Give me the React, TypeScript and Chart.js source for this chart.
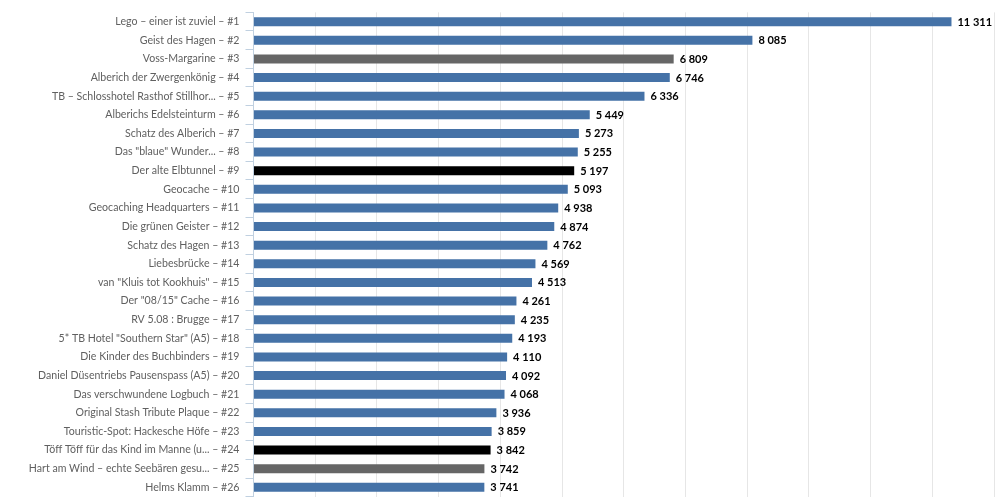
import React, { useEffect, useRef } from "react";
import { Chart, registerables } from "chart.js";

Chart.register(...registerables);

const categories: string[] = [
  "Lego – einer ist zuviel – #1",
  "Geist des Hagen – #2",
  "Voss-Margarine – #3",
  "Alberich der Zwergenkönig – #4",
  "TB – Schlosshotel Rasthof Stillhor... – #5",
  "Alberichs Edelsteinturm – #6",
  "Schatz des Alberich – #7",
  "Das \"blaue\" Wunder... – #8",
  "Der alte Elbtunnel – #9",
  "Geocache – #10",
  "Geocaching Headquarters – #11",
  "Die grünen Geister – #12",
  "Schatz des Hagen – #13",
  "Liebesbrücke – #14",
  "van \"Kluis tot Kookhuis\" – #15",
  "Der \"08/15\" Cache – #16",
  "RV 5.08 : Brugge – #17",
  "5* TB Hotel \"Southern Star\" (A5) – #18",
  "Die Kinder des Buchbinders – #19",
  "Daniel Düsentriebs Pausenspass (A5) – #20",
  "Das verschwundene Logbuch – #21",
  "Original Stash Tribute Plaque – #22",
  "Touristic-Spot: Hackesche Höfe – #23",
  "Töff Töff für das Kind im Manne (u... – #24",
  "Hart am Wind – echte Seebären gesu... – #25",
  "Helms Klamm – #26",
];

const values: number[] = [
  11311, 8085, 6809, 6746, 6336, 5449, 5273, 5255, 5197, 5093, 4938, 4874, 4762,
  4569, 4513, 4261, 4235, 4193, 4110, 4092, 4068, 3936, 3859, 3842, 3742, 3741,
];

// kind of each bar: 0 = normal, 1 = grey, 2 = black
const barKinds: number[] = [
  0, 0, 1, 0, 0, 0, 0, 0, 2, 0, 0, 0, 0, 0, 0, 0, 0, 0, 0, 0, 0, 0, 0, 2, 1, 0,
];

const xTickValues: number[] = [0, 12000, 1000]; // min, max, step

const kindColors = ["#4572A7", "#666666", "#000000"];

function fmt(v: number): string {
  return String(v).replace(/\B(?=(\d{3})+(?!\d))/g, " ");
}

const valueLabelPlugin = {
  id: "valueLabels",
  afterDatasetsDraw(chart: any) {
    const ctx = chart.ctx;
    const meta = chart.getDatasetMeta(0);
    ctx.save();
    ctx.font = "bold 11px Lato";
    ctx.fillStyle = "#000000";
    ctx.textAlign = "left";
    ctx.textBaseline = "middle";
    meta.data.forEach((el: any, i: number) => {
      const v = chart.data.datasets[0].data[i];
      ctx.fillText(fmt(v), el.x + 6, el.y + 0.5);
    });
    ctx.restore();
  },
};

export default function App() {
  const ref = useRef<HTMLCanvasElement | null>(null);
  useEffect(() => {
    document.body.style.margin = "0";
    const canvas = ref.current;
    if (!canvas) return;
    const chart = new Chart(canvas, {
      type: "bar",
      data: {
        labels: categories,
        datasets: [
          {
            data: values,
            backgroundColor: barKinds.map((k) => kindColors[k]),
            borderWidth: 0,
            barPercentage: 0.48,
            categoryPercentage: 1,
          },
        ],
      },
      options: {
        indexAxis: "y",
        animation: false,
        responsive: true,
        maintainAspectRatio: false,
        layout: { padding: { top: 12, right: 6, bottom: 0, left: 0 } },
        plugins: {
          legend: { display: false },
          tooltip: { enabled: false },
        },
        scales: {
          x: {
            min: xTickValues[0],
            max: xTickValues[1],
            ticks: { display: false, stepSize: xTickValues[2] },
            grid: { color: "#E6E6E6", drawTicks: false },
            border: { display: false },
            afterFit: (s: any) => {
              s.height = 0;
            },
          },
          y: {
            offset: true,
            ticks: {
              color: "#606060",
              font: { family: "Lato", size: 10.6 },
              padding: 6,
              autoSkip: false,
            },
            grid: {
              drawOnChartArea: false,
              drawTicks: true,
              tickLength: 8,
              color: "#C0D0E0",
              offset: true,
            },
            border: { display: true, color: "#C0D0E0" },
            afterFit: (s: any) => {
              s.width = 253.5;
            },
          },
        },
      },
      plugins: [valueLabelPlugin],
    });
    return () => chart.destroy();
  }, []);
  return (
    <div style={{ width: "1000px", height: "498px", overflow: "hidden" }}>
      <div style={{ position: "relative", width: "1000px", height: "509px" }}>
        <canvas ref={ref} />
      </div>
    </div>
  );
}
